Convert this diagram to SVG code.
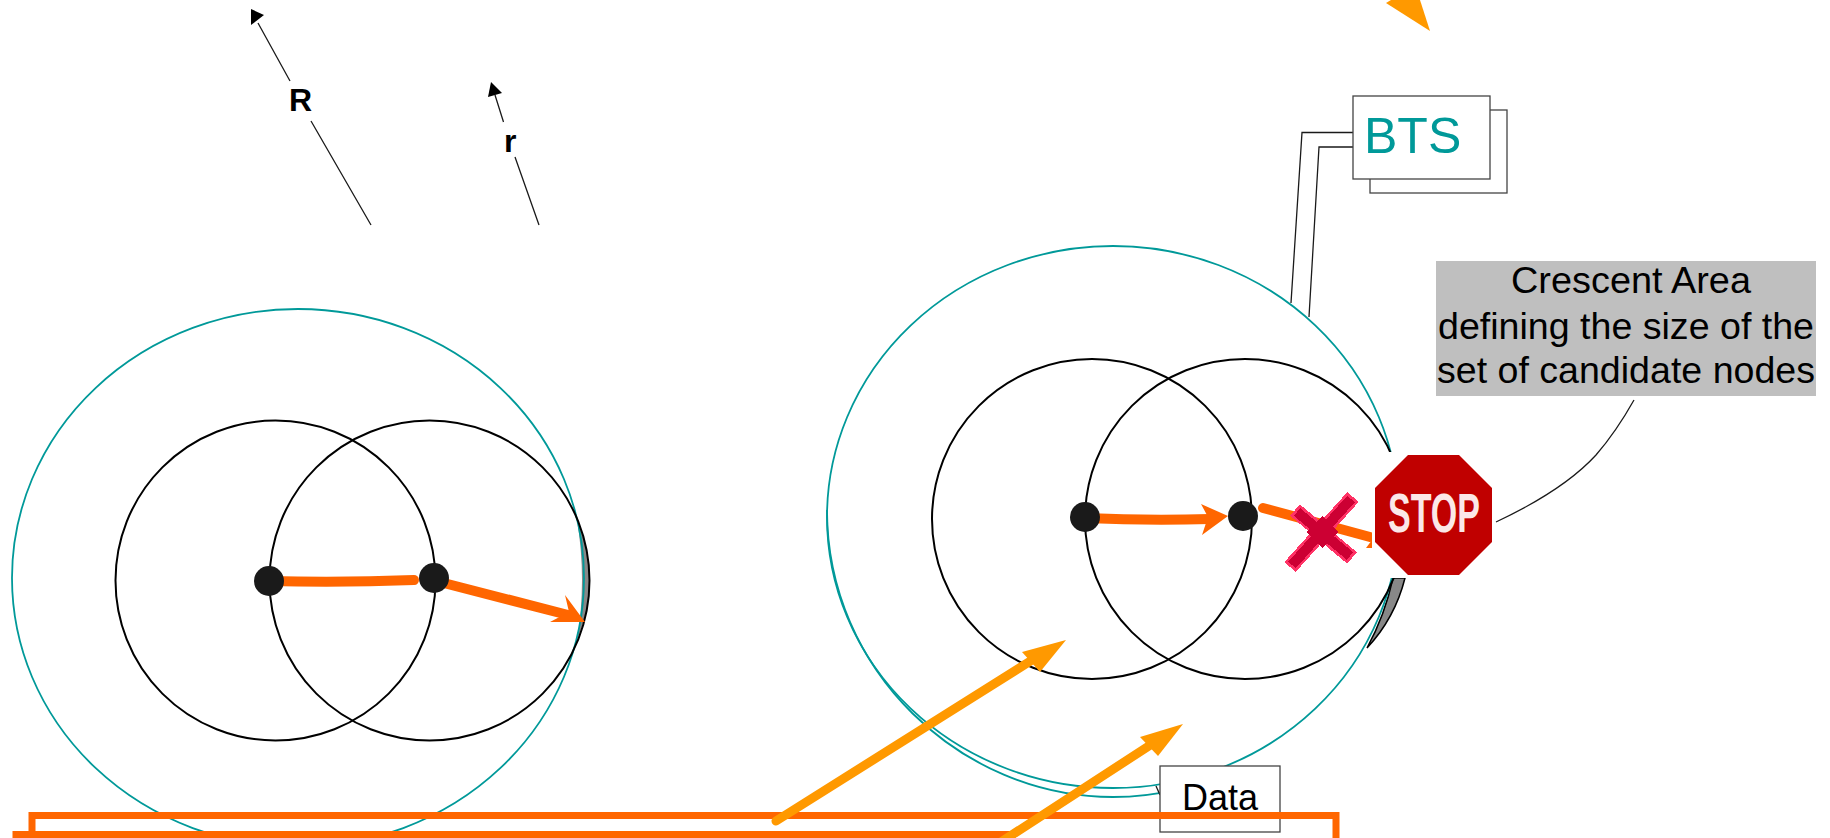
<svg xmlns="http://www.w3.org/2000/svg" width="1830" height="838" viewBox="0 0 1830 838">
<style>
text{font-family:"Liberation Sans",Arial,sans-serif}
.teal{fill:none;stroke:#009999;stroke-width:1.8}
.blk{fill:none;stroke:#000;stroke-width:2}
.thin{fill:none;stroke:#1a1a1a;stroke-width:1.3}
.box{fill:#fff;stroke:#444;stroke-width:1.3}
.dot{fill:#1a1a1a}
.org{fill:none;stroke:#f60;stroke-width:10;stroke-linecap:round}
.orgh{fill:#f60}
.gold{fill:none;stroke:#f90;stroke-width:9;stroke-linecap:round}
.goldh{fill:#f90}
.frame{fill:none;stroke:#f60;stroke-width:7}
.lbl{font-weight:bold;font-size:32px;fill:#000}
.cap{font-size:36px;fill:#000}
</style>
<g id="left-cell">
<path d="M577,520Q587,580 577,640Q602,580 577,520Z" fill="#888"/>
<ellipse class="teal" cx="298" cy="578" rx="286" ry="269"/>
<circle class="blk" cx="275.500" cy="580.500" r="160"/>
<circle class="blk" cx="429.500" cy="580.500" r="160"/>
</g>
<g id="right-cell">
<path d="M1393,578L1405,578Q1395,618 1367,648Q1385,615 1393,578Z" fill="#888" stroke="#000" stroke-width="1.500"/>
<ellipse class="teal" cx="1113" cy="517" rx="286" ry="271"/>
<path class="teal" d="M827,510C827,670 960,797 1113,797C1160,797 1200,785 1229,768"/>
<circle class="blk" cx="1092" cy="519" r="160"/>
<circle class="blk" cx="1245" cy="519" r="160"/>
</g>
<g id="connectors">
<path class="thin" d="M1353,132.500H1302L1291,303"/>
<path class="thin" d="M1353,147H1319L1309,317"/>
<path class="thin" d="M1156,786L1160,795"/>
<path class="thin" d="M1634,400Q1616,432 1596,455Q1564,490 1496,522"/>
<path class="thin" d="M258,23L290,81M311,121L371,225"/>
<polygon points="251,9 251,25 264,15" fill="#000"/>
<path class="thin" d="M495,95L503.500,122M515,157L539,225"/>
<polygon points="491,82 488,97 502,93" fill="#000"/>
<path class="org" d="M269,581Q340,583 414,580"/>
<path class="org" d="M436,581L572,616"/>
<polygon class="orgh" points="585,622 550,622 569,612 565,595"/>
<path class="org" d="M1085,518Q1150,521 1210,519"/>
<polygon class="orgh" points="1228,516 1201,504 1208,517 1202,535"/>
<path class="org" d="M1263,508L1370,537"/>
<polygon class="orgh" points="1375,548 1366,548 1372,540"/>
</g>
<g id="data-box">
<rect class="box" x="1160" y="766" width="120" height="66"/>
<text x="1182" y="810" font-size="36">Data</text>
</g>
<g id="frames">
<path class="frame" d="M1336,838V815.500H32V838"/>
<path class="frame" d="M1012,838V834.500H16V838"/>
</g>
<g id="gold-arrows">
<path class="gold" d="M776,821L1040,655"/>
<polygon class="goldh" points="1066,640 1022,652 1040,672"/>
<path class="gold" d="M1001,842L1155,742"/>
<polygon class="goldh" points="1183,724 1140,737 1158,756"/>
<polygon class="goldh" points="1386,3 1391,0 1420,0 1430,31"/>
</g>
<g id="nodes-dots">
<circle class="dot" cx="269" cy="581" r="15"/>
<circle class="dot" cx="434" cy="578" r="15"/>
<circle class="dot" cx="1085" cy="517" r="15"/>
<circle class="dot" cx="1243" cy="516" r="15"/>
</g>
<g id="bts">
<rect class="box" x="1370" y="110" width="137" height="83"/>
<rect class="box" x="1353" y="96" width="137" height="83"/>
<text x="1364" y="153" font-size="50" fill="#009999">BTS</text>
</g>
<g id="label-R"><text class="lbl" x="289" y="111">R</text></g>
<g id="label-r"><text class="lbl" x="504" y="152">r</text></g>
<g id="crescent-label">
<rect x="1436" y="261" width="380" height="135" fill="#bfbfbf"/>
<text class="cap" x="1511" y="293" textLength="240" lengthAdjust="spacingAndGlyphs">Crescent Area</text>
<text class="cap" x="1438" y="339" textLength="376" lengthAdjust="spacingAndGlyphs">defining the size of the</text>
<text class="cap" x="1437" y="383" textLength="378" lengthAdjust="spacingAndGlyphs">set of candidate nodes</text>
</g>
<g id="cross">
<g shape-rendering="crispEdges">
<path d="M1295,510L1352,558M1290,567L1353,497" fill="none" stroke="#f36" stroke-width="15"/>
<path d="M1297,512L1350,556M1292,565L1351,499" fill="none" stroke="#c03" stroke-width="10"/>
<polygon points="1322,516 1338,532 1322,548 1306,532" fill="#c03"/>
</g>
</g>
<g id="stop">
<rect x="1372" y="452" width="123" height="126" fill="#fff"/>
<polygon points="1408,455 1459,455 1492,488 1492,542 1459,575 1408,575 1375,542 1375,488" fill="#c00000"/>
<text x="1388" y="532" font-size="56" font-weight="bold" fill="#fbe8e8" textLength="92" lengthAdjust="spacingAndGlyphs">STOP</text>
</g>
</svg>
